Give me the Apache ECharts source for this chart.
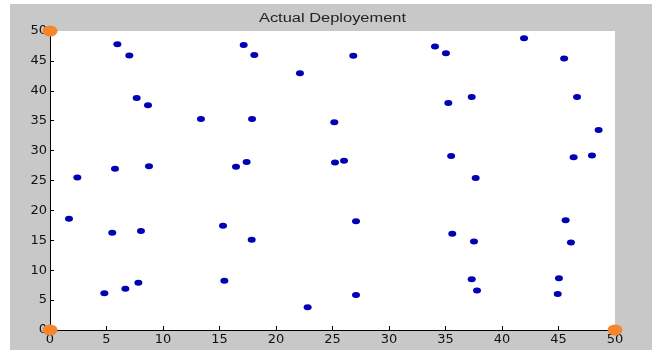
<!DOCTYPE html>
<html><head><meta charset="utf-8">
<script src="https://cdn.jsdelivr.net/npm/echarts@6/dist/echarts.min.js"></script>
<style>html,body{margin:0;padding:0;background:#fff}#c{width:652px;height:350px}</style>
</head><body><div id="c"></div>
<script>
const titleText = 'Actual Deployement';
const xTicks = [0,5,10,15,20,25,30,35,40,45,50];
const yTicks = [0,5,10,15,20,25,30,35,40,45,50];
const nodeX = [5.96,7.02,7.67,8.67,13.36,17.14,18.08,17.88,22.12,2.42,5.75,8.76,16.46,17.4,
  26.84,34.07,35.04,41.95,45.5,35.25,37.32,46.64,25.16,48.55,25.22,26.02,35.5,46.34,47.96,37.67,
  1.68,5.51,8.05,15.31,17.85,4.81,6.67,7.82,15.43,22.8,
  27.08,45.63,35.6,37.52,46.1,37.32,45.04,37.79,44.93,27.08];
const nodeY = [47.8,45.9,38.8,37.6,35.3,47.65,46.0,35.3,42.95,25.5,26.96,27.4,27.3,28.1,
  45.86,47.4,46.3,48.8,45.4,37.97,38.98,38.98,34.73,33.45,28.0,28.3,29.1,28.9,29.2,25.4,
  18.6,16.27,16.55,17.45,15.1,6.15,6.88,7.89,8.22,3.8,
  18.2,18.35,16.1,14.8,14.65,8.5,8.67,6.6,6.04,5.87];
const anchorX = [0,0,50];
const anchorY = [50,0,0];

const chart = echarts.init(document.getElementById('c'));
const font = 'Arial, "Liberation Sans", sans-serif';
const labFont = '"DejaVu Sans", sans-serif';
chart.setOption({
  animation:false,
  backgroundColor:'#fff',
  graphic:[
    {type:'rect',z:-10,shape:{x:10,y:4,width:642,height:346},style:{fill:'#c8c8c8'}},
    {type:'text',x:332.5,y:18.5,scaleX:1.37,z:10,style:{text:titleText,fontFamily:font,fontSize:12,fill:'#222',align:'center',verticalAlign:'middle'}}
  ],
  grid:{left:50,right:37,top:31,bottom:20,show:true,backgroundColor:'#fff',borderWidth:0},
  xAxis:{type:'value',min:0,max:50,interval:5,
    axisLine:{lineStyle:{color:'#000',width:1}},
    axisTick:{inside:true,length:4,lineStyle:{color:'#000'}},
    splitLine:{show:false},
    axisLabel:{color:'#111',fontFamily:labFont,fontSize:13,margin:3,formatter:v=>xTicks.includes(v)?String(v):''}},
  yAxis:{type:'value',min:0,max:50,interval:5,
    axisLine:{show:true,lineStyle:{color:'#000',width:1}},
    axisTick:{show:true,inside:true,length:4,lineStyle:{color:'#000'}},
    splitLine:{show:false},
    axisLabel:{color:'#111',fontFamily:labFont,fontSize:13,margin:3,formatter:v=>yTicks.includes(v)?String(v):''}},
  series:[
    {type:'scatter',clip:false,symbol:'circle',symbolSize:[8,6],itemStyle:{color:'#0000b4',opacity:1},
     data:nodeX.map((x,i)=>[x,nodeY[i]])},
    {type:'scatter',clip:false,symbol:'circle',symbolSize:[15,11],itemStyle:{color:'#f5862e',opacity:1},z:5,
     data:anchorX.map((x,i)=>[x,anchorY[i]])}
  ]
});
</script></body></html>
